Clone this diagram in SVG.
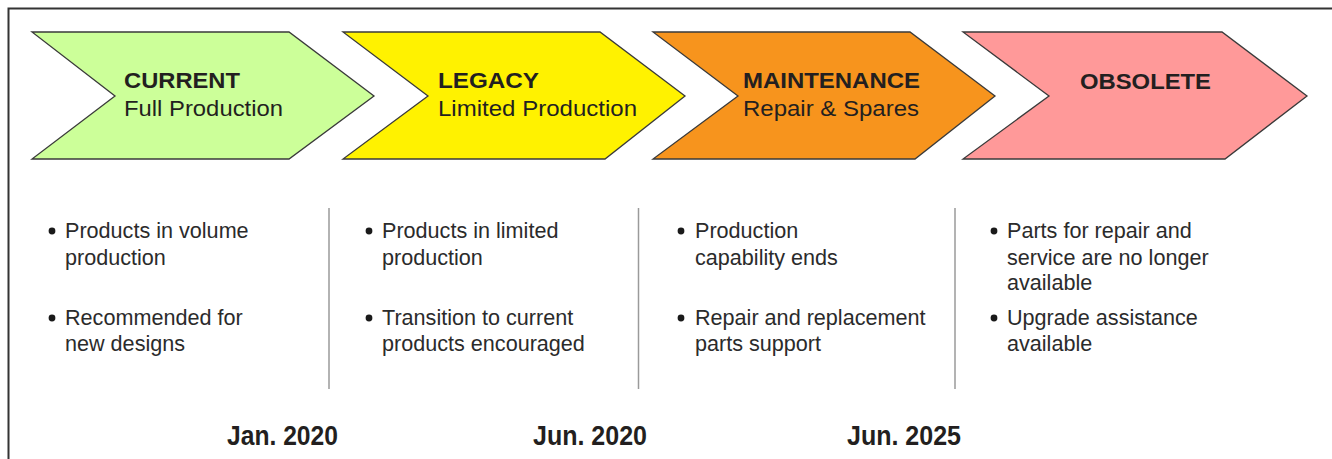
<svg xmlns="http://www.w3.org/2000/svg" width="1332" height="459" viewBox="0 0 1332 459">
<style>
.chev{stroke:#3a3a3a;stroke-width:1.3;stroke-linejoin:miter}
.t1{font-family:"Liberation Sans",Arial,sans-serif;font-weight:bold;font-size:22.5px;fill:#231f20}
.t2{font-family:"Liberation Sans",Arial,sans-serif;font-size:22px;fill:#231f20}
.b{font-family:"Liberation Sans",Arial,sans-serif;font-size:21.6px;fill:#2b2b2b}
.dot{fill:#1a1a1a}
.div{stroke:#9a9a9a;stroke-width:1.5}
.date{font-family:"Liberation Sans",Arial,sans-serif;font-weight:bold;font-size:28px;fill:#231f20}
</style>
<rect width="1332" height="459" fill="#fff"/>
<path d="M8.5,460 V8.5 H1332" fill="none" stroke="#333" stroke-width="2"/>
<g id="current">
<polygon class="chev" fill="#ccff99" points="32,32 289,32 374,96 289,159 32,159 115,96"/>
<text class="t1" x="124" y="88" textLength="116" lengthAdjust="spacingAndGlyphs">CURRENT</text>
<text class="t2" x="124" y="116" textLength="159" lengthAdjust="spacingAndGlyphs">Full Production</text>
</g>
<g id="legacy">
<polygon class="chev" fill="#fff200" points="343,32 600,32 685,96 605,159 343,159 428,96"/>
<text class="t1" x="438" y="88" textLength="101" lengthAdjust="spacingAndGlyphs">LEGACY</text>
<text class="t2" x="438" y="116" textLength="199" lengthAdjust="spacingAndGlyphs">Limited Production</text>
</g>
<g id="maintenance">
<polygon class="chev" fill="#f7941d" points="653,32 910,32 995,96 915,159 653,159 738,96"/>
<text class="t1" x="743" y="88" textLength="177" lengthAdjust="spacingAndGlyphs">MAINTENANCE</text>
<text class="t2" x="743" y="116" textLength="176" lengthAdjust="spacingAndGlyphs">Repair &amp; Spares</text>
</g>
<g id="obsolete">
<polygon class="chev" fill="#ff9999" points="963,32 1222,32 1307,96 1225,159 963,159 1049,96"/>
<text class="t1" x="1080" y="89" textLength="131" lengthAdjust="spacingAndGlyphs">OBSOLETE</text>
</g>
<g id="dividers">
<line class="div" x1="329" y1="208" x2="329" y2="389"/>
<line class="div" x1="638.5" y1="208" x2="638.5" y2="389"/>
<line class="div" x1="955" y1="208" x2="955" y2="389"/>
</g>
<g id="col-current">
<circle class="dot" cx="52" cy="231" r="3.4"/>
<text class="b" x="65" y="238">Products in volume</text>
<text class="b" x="65" y="265">production</text>
<circle class="dot" cx="52" cy="318" r="3.4"/>
<text class="b" x="65" y="325">Recommended for</text>
<text class="b" x="65" y="351">new designs</text>
</g>
<g id="col-legacy">
<circle class="dot" cx="369" cy="231" r="3.4"/>
<text class="b" x="382" y="238">Products in limited</text>
<text class="b" x="382" y="265">production</text>
<circle class="dot" cx="369" cy="318" r="3.4"/>
<text class="b" x="382" y="325">Transition to current</text>
<text class="b" x="382" y="351">products encouraged</text>
</g>
<g id="col-maintenance">
<circle class="dot" cx="681" cy="231" r="3.4"/>
<text class="b" x="695" y="238">Production</text>
<text class="b" x="695" y="265">capability ends</text>
<circle class="dot" cx="681" cy="318" r="3.4"/>
<text class="b" x="695" y="325">Repair and replacement</text>
<text class="b" x="695" y="351">parts support</text>
</g>
<g id="col-obsolete">
<circle class="dot" cx="994" cy="231" r="3.4"/>
<text class="b" x="1007" y="238">Parts for repair and</text>
<text class="b" x="1007" y="265">service are no longer</text>
<text class="b" x="1007" y="290">available</text>
<circle class="dot" cx="994" cy="318" r="3.4"/>
<text class="b" x="1007" y="325">Upgrade assistance</text>
<text class="b" x="1007" y="351">available</text>
</g>
<g id="dates">
<text class="date" x="227" y="445" textLength="111" lengthAdjust="spacingAndGlyphs">Jan. 2020</text>
<text class="date" x="533" y="445" textLength="114" lengthAdjust="spacingAndGlyphs">Jun. 2020</text>
<text class="date" x="847" y="445" textLength="114" lengthAdjust="spacingAndGlyphs">Jun. 2025</text>
</g>
</svg>
